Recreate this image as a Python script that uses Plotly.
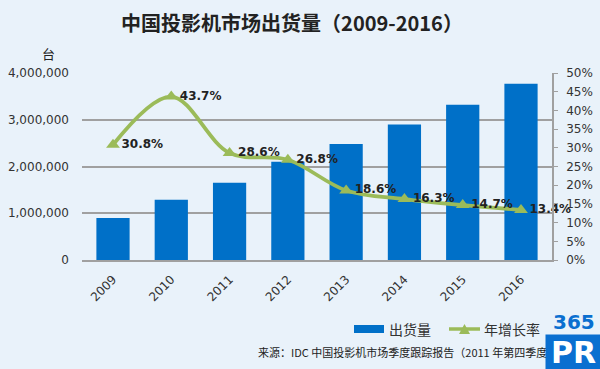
import plotly.graph_objects as go

years = ["2009", "2010", "2011", "2012", "2013", "2014", "2015", "2016"]
shipments = [900000, 1290000, 1650000, 2100000, 2480000, 2900000, 3320000, 3770000]
growth = [30.8, 43.7, 28.6, 26.8, 18.6, 16.3, 14.7, 13.4]
growth_labels = ["30.8%", "43.7%", "28.6%", "26.8%", "18.6%", "16.3%", "14.7%", "13.4%"]
left_ticks = [0, 1000000, 2000000, 3000000, 4000000]
left_tick_text = ["0", "1,000,000", "2,000,000", "3,000,000", "4,000,000"]
right_ticks = list(range(0, 55, 5))
right_tick_text = [f"{v}%" for v in right_ticks]

BG = "#E9F2FA"
BLUE = "#0070C8"
GREEN = "#9BBB59"
CJK = "Noto Sans CJK SC"
NUM = "DejaVu Sans"

# plot area in pixels
L, R, T, B = 82, 552, 73, 260
W, H = R - L, B - T


def px(x):
    return (x - L) / W


def py(y):
    return (B - y) / H


fig = go.Figure()
fig.add_trace(go.Bar(
    x=years, y=shipments, name="出货量",
    marker=dict(color=BLUE, line=dict(width=0)),
))
fig.add_trace(go.Scatter(
    x=years, y=growth, name="年增长率", yaxis="y2",
    mode="lines+markers+text",
    line=dict(color=GREEN, width=3.8, shape="spline", smoothing=1.0),
    marker=dict(symbol="triangle-up", size=12, color=GREEN),
    text=growth_labels, textposition="middle right",
    textfont=dict(family=NUM, size=12, color="#222222", weight="bold"),
    cliponaxis=False,
))

fig.update_layout(
    width=600, height=369,
    paper_bgcolor=BG, plot_bgcolor=BG,
    margin=dict(l=L, r=600 - R, t=T, b=369 - B, autoexpand=False),
    bargap=0.43,
    showlegend=False,
    title=dict(text="<b>中国投影机市场出货量（2009-2016）</b>", x=292 / 600, xanchor="center",
               y=1 - 24 / 369, yanchor="middle",
               font=dict(family=CJK, size=20, color="#222222")),
    xaxis=dict(tickangle=-45, tickfont=dict(family=NUM, size=12, color="#333333"),
               showgrid=False, showline=True, linecolor="#A0A0A0", linewidth=1.5,
               ticks="", fixedrange=True, ticklabelstandoff=6),
    yaxis=dict(range=[0, 4000000], tickvals=left_ticks, ticktext=left_tick_text,
               tickfont=dict(family=NUM, size=12, color="#333333"),
               showgrid=True, gridcolor="#A0A0A0", gridwidth=1.5,
               zeroline=False, showline=False, ticks="", ticklabelstandoff=12),
    yaxis2=dict(range=[0, 50], tickvals=right_ticks, ticktext=right_tick_text,
                overlaying="y", side="right",
                tickfont=dict(family=NUM, size=12, color="#333333"),
                showgrid=False, zeroline=False, showline=True, linecolor="#A0A0A0",
                linewidth=1.5, ticks="outside", ticklen=4, tickcolor="#A0A0A0",
                ticklabelstandoff=6),
)

fig.add_annotation(text="台", xref="paper", yref="paper", x=px(48), y=py(53),
                   xanchor="center", yanchor="middle", showarrow=False,
                   font=dict(family=CJK, size=13, color="#222222"))

# manual legend
fig.add_shape(type="rect", xref="paper", yref="paper",
              x0=px(354), x1=px(384), y0=py(333), y1=py(325),
              fillcolor=BLUE, line=dict(width=0))
fig.add_annotation(text="出货量", xref="paper", yref="paper", x=px(387), y=py(329),
                   xanchor="left", yanchor="middle", showarrow=False,
                   font=dict(family=CJK, size=14, color="#333333"))
fig.add_shape(type="line", xref="paper", yref="paper",
              x0=px(449), x1=px(480), y0=py(329), y1=py(329),
              line=dict(color=GREEN, width=3.5))
fig.add_shape(type="path", xref="paper", yref="paper",
              path=f"M {px(459)} {py(334)} L {px(470)} {py(334)} L {px(464.5)} {py(324)} Z",
              fillcolor=GREEN, line=dict(width=0))
fig.add_annotation(text="年增长率", xref="paper", yref="paper", x=px(482), y=py(329),
                   xanchor="left", yanchor="middle", showarrow=False,
                   font=dict(family=CJK, size=14, color="#333333"))

fig.add_annotation(text="来源：IDC 中国投影机市场季度跟踪报告（2011 年第四季度）",
                   xref="paper", yref="paper", x=px(256), y=py(352), xanchor="left",
                   yanchor="middle", showarrow=False,
                   font=dict(family=CJK, size=11, color="#222222"))

# 365PR watermark
fig.add_annotation(text="<b>365</b>", xref="paper", yref="paper",
                   x=px(574), y=py(322), xanchor="center", yanchor="middle", showarrow=False,
                   font=dict(family="DejaVu Sans", size=20, color="#0A6FD0"))
fig.add_annotation(text="<b>PR</b>", xref="paper", yref="paper",
                   x=px(545), y=py(334), xanchor="left", yanchor="top",
                   showarrow=False, bgcolor="#0A6FD0", width=55, height=35,
                   borderpad=0, align="center", valign="middle",
                   font=dict(family="DejaVu Sans", size=30, color="#FFFFFF"))

fig.write_html("out.html", config={"displayModeBar": False},
               post_script="document.body.style.margin='0';document.body.style.background='%s';" % BG)
